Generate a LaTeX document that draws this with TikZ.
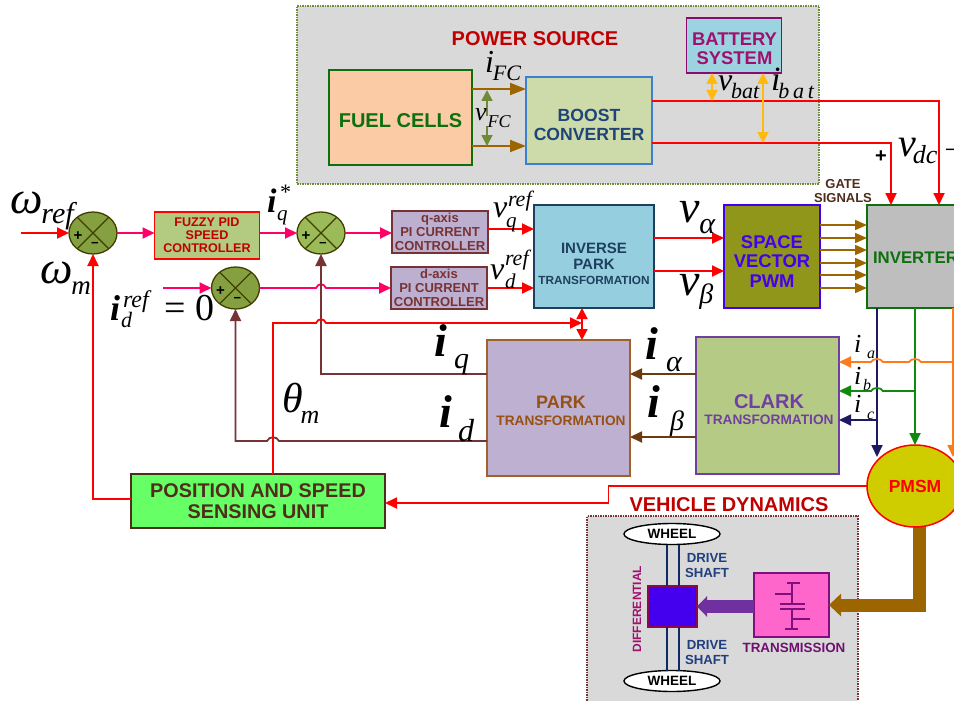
\documentclass[tikz,border=0pt]{standalone}
\usepackage{fontspec}
\setmainfont{Liberation Sans}
\newfontfamily\serf{Liberation Serif}
\usetikzlibrary{arrows.meta,shapes.geometric}
\newcommand\hx[1]{\definecolor{#1}{HTML}{#1}}
\hx{FBCBA6}\hx{3A7FD0}\hx{CDDAA9}\hx{1F4478}\hx{8B0A6B}\hx{9BD3E1}\hx{A0106E}\hx{B3CB80}\hx{C00000}\hx{BDAFD0}\hx{1F3F5F}\hx{95CFDF}\hx{4400EE}\hx{8F961A}\hx{0D6F0D}\hx{BEBEBE}\hx{A0622A}\hx{BDB0D0}\hx{975015}\hx{7040A0}\hx{B5CB85}\hx{4F2D1A}\hx{66FF66}\hx{CFCC00}\hx{8B0A4B}\hx{7F0F7F}\hx{FF66CC}\hx{1F3F7F}\hx{6F0F6F}\hx{7030A0}
\definecolor{bgray}{HTML}{D9D9D9}
\definecolor{pink1}{HTML}{FF0066}
\definecolor{brn}{HTML}{9C6500}
\definecolor{dbrn}{HTML}{6A3A10}
\definecolor{mar}{HTML}{773333}
\definecolor{navyl}{HTML}{1F1A60}
\definecolor{grn}{HTML}{0F8A0F}
\definecolor{org}{HTML}{FF7A1A}
\definecolor{gold}{HTML}{FFB90F}
\definecolor{oliv}{HTML}{6F8B3A}
\definecolor{shaftc}{HTML}{0F2A66}
\definecolor{sumd}{HTML}{3F3F00}
\newcommand\fs[2]{\fontsize{#1}{#2}\selectfont}
% size, symbol, gap, drop, subsize, sub
\newcommand\sym[6]{{\fs{#1}{#1}#2}\hspace{#3pt}\raisebox{-#4pt}{\fs{#5}{#5}#6}}
\tikzset{
  pbox/.style n args={3}{draw=#1,fill=#2,text=#3,line width=1.5pt,inner sep=0pt,outer sep=0pt,align=center,font=\bfseries},
  sz/.style 2 args={minimum width=#1,minimum height=#2},
  lab/.style={anchor=base west,inner sep=0pt,outer sep=0pt,font=\serf\itshape},
  lbf/.style={anchor=base west,inner sep=0pt,outer sep=0pt,font=\serf\itshape\bfseries},
  ttl/.style={inner sep=0pt,outer sep=0pt,align=center,font=\bfseries},
  sumj/.style={ellipse,draw=sumd,line width=1.3pt,minimum width=48pt,minimum height=42pt,inner sep=0pt,outer sep=0pt},
  con/.style={line width=1.8pt,-{Triangle[length=12pt,width=11pt]}},
  dbl/.style={line width=1.8pt,{Triangle[length=11pt,width=11pt]}-{Triangle[length=11pt,width=11pt]}},
}
\begin{document}
\begin{tikzpicture}[x=1pt,y=-1pt]
\useasboundingbox (0,0) rectangle (954,701);
\clip (0,0) rectangle (954,701);
% panels
\node[draw=oliv,fill=bgray,densely dotted,line width=1.5pt,sz={522pt}{178pt},inner sep=0pt] (power) at (558,95) {};
\node[draw=mar,fill=bgray,densely dotted,line width=1.5pt,sz={271pt}{200pt},inner sep=0pt] (veh) at (722.5,616) {};
\node[ttl,text=C00000,font=\bfseries\fs{20}{22}] (ptitle) at (535,39) {POWER SOURCE};
\node[ttl,text=C00000,font=\bfseries\fs{20}{22}] (vtitle) at (729,505) {VEHICLE DYNAMICS};
% source blocks
\node[pbox={0D6F0D}{FBCBA6}{0D6F0D},sz={143pt}{95pt}] (fuel) at (400.5,117.5) {};
\node[ttl,text=0D6F0D,font=\bfseries\fs{20}{22}] (fuelt) at (400.5,121) {FUEL CELLS};
\node[pbox={3A7FD0}{CDDAA9}{1F4478},sz={126pt}{87pt}] (boost) at (589,120.5) {};
\node[ttl,text=1F4478,font=\bfseries\fs{17.6}{19}] (boostt) at (589,124.5) {BOOST\\CONVERTER};
\node[pbox={8B0A6B}{9BD3E1}{A0106E},sz={95pt}{55pt}] (batt) at (734,45.5) {};
\node[ttl,text=A0106E,font=\bfseries\fs{18.4}{19.5}] (battt) at (734.5,49) {BATTERY\\SYSTEM};
% main blocks
\node[pbox={red}{B3CB80}{C00000},sz={105pt}{47pt},font=\bfseries\fs{12.6}{13}] (fuzzy) at (207,235.5) {FUZZY PID\\SPEED\\CONTROLLER};
\node[pbox={mar}{BDAFD0}{mar},sz={96pt}{42pt},font=\bfseries\fs{13}{14}] (qpi) at (440,232) {q-axis\\PI CURRENT\\CONTROLLER};
\node[pbox={mar}{BDAFD0}{mar},sz={96pt}{42pt},font=\bfseries\fs{13}{14}] (dpi) at (439,288) {d-axis\\PI CURRENT\\CONTROLLER};
\node[pbox={1F3F5F}{95CFDF}{1F3F5F},sz={120pt}{103pt},font=\bfseries] (ipark) at (594,256.5) {};
\node[ttl,text=1F3F5F,font=\bfseries] (iparkt) at (594,264) {\fs{15}{16}INVERSE\\[3.5pt]\fs{15}{16}PARK\\[3.5pt]\fs{11.8}{16}TRANSFORMATION};
\node[pbox={4400EE}{8F961A}{4400EE},sz={96pt}{103pt}] (svm) at (772,256.5) {};
\node[ttl,text=4400EE,font=\bfseries\fs{18.4}{19.5}] (svmt) at (772,261.5) {SPACE\\VECTOR\\PWM};
\node[pbox={0D6F0D}{BEBEBE}{0D6F0D},sz={108pt}{103pt}] (inv) at (921,256.5) {};
\node[ttl,text=0D6F0D,font=\bfseries\fs{16.8}{18},anchor=west] (invt) at (873,258) {INVERTER};
\node[pbox={A0622A}{BDB0D0}{975015},sz={143pt}{136pt}] (park) at (558.5,408) {};
\node[ttl,text=975015,font=\bfseries] (parkt) at (561,410.5) {\fs{18}{18}PARK\\[5pt]\fs{13.7}{18}TRANSFORMATION};
\node[pbox={7040A0}{B5CB85}{7040A0},sz={143pt}{137pt}] (clark) at (767.5,405.5) {};
\node[ttl,text=7040A0,font=\bfseries] (clarkt) at (769,409.5) {\fs{20}{18}CLARK\\[4pt]\fs{13.7}{18}TRANSFORMATION};
\node[pbox={4F2D1A}{66FF66}{4F2D1A},sz={254pt}{54pt},font=\bfseries\fs{19.8}{21}] (pos) at (258,501) {POSITION AND SPEED\\SENSING UNIT};
\node[ttl,text=4F2D1A,font=\bfseries\fs{13}{13.5}] (gate) at (843,191) {GATE\\SIGNALS};
% summing junctions
\foreach \n/\x/\y/\c in {sa/93/233/84A040,sb/321/233/9BBB59,sc/235.5/288/84A040}{
  \definecolor{tmpc}{HTML}{\c}
  \node[sumj,fill=tmpc] (\n) at (\x,\y) {};
  \draw[line width=1.3pt,sumd] (\n.45) -- (\n.225) (\n.135) -- (\n.315);
  \node[ttl,font=\bfseries\fs{15}{15}] (\n p) at (\x-15,\y+3) {+};
  \node[ttl,font=\bfseries\fs{13}{13}] (\n m) at (\x+2,\y+12) {−};
}
% power connectors
\coordinate (yi1) at (0,89); \coordinate (yi2) at (0,146);
\draw[line width=2pt,brn,-{Triangle[length=16pt,width=12pt]}] (fuel.east |- yi1) -- (boost.west |- yi1);
\draw[line width=2pt,brn,-{Triangle[length=16pt,width=12pt]}] (fuel.east |- yi2) -- (boost.west |- yi2);
\draw[line width=1.8pt,oliv,{Triangle[length=11pt,width=11pt]}-] (487,90) -- (487,116);
\draw[line width=1.8pt,oliv,-{Triangle[length=11pt,width=11pt]}] (487,126) -- (487,146);
\coordinate (yr1) at (0,101); \coordinate (yr2) at (0,143);
\coordinate (xr1) at (939,0); \coordinate (xr2) at (891,0);
\draw[con,red] (boost.east |- yr1) -| (xr1 |- inv.north);
\draw[con,red] (boost.east |- yr2) -| (xr2 |- inv.north);
\coordinate (xb) at (712,0); \coordinate (xi) at (763,0);
\draw[dbl,gold] (xb |- batt.south) -- (xb |- yr1);
\draw[dbl,gold] (xi |- batt.south) -- (xi |- yr2);
% forward path
\coordinate (wstart) at (21,233);
\coordinate (dstart) at (163,288);
\draw[con,red] (wstart) -- (sa.west);
\draw[con,pink1] (sa.east) -- (fuzzy.west |- sa);
\draw[con,pink1] (fuzzy.east |- sb) -- (sb.west);
\draw[con,pink1] (sb.east) -- (qpi.west |- sb);
\draw[con,pink1] (dstart) -- (sc.west);
\draw[con,pink1] (sc.east) -- (316,288) .. controls (318,283) and (324,283) .. (326,288) -- (dpi.west);
\coordinate (yq) at (0,229); \coordinate (yd) at (0,288);
\draw[con,red] (qpi.east |- yq) -- (ipark.west |- yq);
\draw[con,red] (dpi.east |- yd) -- (ipark.west |- yd);
\coordinate (ya) at (0,238); \coordinate (yb) at (0,271);
\draw[con,red] (ipark.east |- ya) -- (svm.west |- ya);
\draw[con,red] (ipark.east |- yb) -- (svm.west |- yb);
\foreach \y [count=\k] in {225,238,250,263,275,288}{
  \coordinate (g\k) at (0,\y);
  \draw[line width=1.7pt,brn,-{Triangle[length=12pt,width=10pt]}] (svm.east |- g\k) -- (inv.west |- g\k);
}
% feedback
\coordinate (xw) at (93,499);
\draw[con,red] (pos.west |- xw) -- (xw) -- (sa.south);
\coordinate (yiq) at (0,374); \coordinate (yid) at (0,441);
\draw[con,mar] (park.west |- yiq) -- (sb.south |- yiq) -- (sb.south);
\draw[con,mar] (park.west |- yid) -- (279,441) .. controls (277,436) and (269,436) .. (267,441) -- (sc.south |- yid) -- (sc.south);
\coordinate (xt) at (273,474); \coordinate (yt) at (0,323); \coordinate (xp) at (582,0);
\draw[con,red] (xt) -- (xt |- yt) -- (316,323) .. controls (318,318) and (324,318) .. (326,323) -- (xp |- yt);
\draw[dbl,red] (xp |- ipark.south) -- (xp |- park.north);
% vehicle
\node[draw=black,fill=white,ellipse,line width=1.4pt,sz={96pt}{21pt},inner sep=0pt,outer sep=0pt,font=\bfseries\fs{13.5}{14}] (w1) at (672,534) {WHEEL};
\node[draw=black,fill=white,ellipse,line width=1.4pt,sz={96pt}{21pt},inner sep=0pt,outer sep=0pt,font=\bfseries\fs{13.5}{14}] (w2) at (672,681) {WHEEL};
\node[pbox={8B0A4B}{4400EE}{white},sz={49pt}{41pt}] (diff) at (672.5,606.5) {};
\node[pbox={7F0F7F}{FF66CC}{7F0F7F},sz={75pt}{64pt}] (trans) at (791.5,605) {};
\coordinate (sx1) at (667,0); \coordinate (sx2) at (679,0);
\draw[line width=2.6pt,shaftc] (sx1 |- w1.south) -- (sx1 |- diff.north) (sx1 |- diff.south) -- (sx1 |- w2.north);
\draw[line width=1.2pt,shaftc] (sx2 |- w1.south) -- (sx2 |- diff.north) (sx2 |- diff.south) -- (sx2 |- w2.north);
\node[ttl,text=1F3F7F,font=\bfseries\fs{13.2}{14.5}] (ds1) at (707,565.5) {DRIVE\\SHAFT};
\node[ttl,text=1F3F7F,font=\bfseries\fs{13.2}{14.5}] (ds2) at (707,652.5) {DRIVE\\SHAFT};
\node[ttl,text=A0106E,font=\bfseries\fs{12}{13},rotate=90] (dl) at (637,609) {DIFFERENTIAL};
\node[ttl,text=6F0F6F,font=\bfseries\fs{13.4}{14}] (tl) at (794,648) {TRANSMISSION};
\draw[line width=1.4pt,7F0F7F] (787,583) -- (800,583) (792,583) -- (792,604) (775,594) -- (792,594)
  (780,604) -- (805,604) (780,609) -- (805,609) (792,609) -- (792,629) (792,619) -- (810,619) (785,629) -- (798,629);
\draw[line width=13pt,7030A0,-{Triangle[length=10pt,width=20pt]}] (trans.west |- diff) -- (diff.east);
% PMSM and its connectors
\coordinate (dsh) at (919,605); \coordinate (dtop) at (919,524);
\draw[line width=13pt,brn,-{Triangle[length=12pt,width=22pt]}] (dtop) -- (dsh) -- (trans.east |- dsh);
\node[pbox={red}{CFCC00}{red},ellipse,sz={96pt}{82pt},font=\bfseries\fs{17.5}{18}] (pmsm) at (915,486) {PMSM};
\coordinate (xm) at (608.5,486); \coordinate (ym) at (608.5,503);
\draw[con,red] (pmsm.west) -- (xm) -- (ym) -- (pos.east |- ym);
\coordinate (yal) at (0,374); \coordinate (ybe) at (0,437);
\draw[con,dbrn] (clark.west |- yal) -- (park.east |- yal);
\draw[con,dbrn] (clark.west |- ybe) -- (park.east |- ybe);
% phase lines
\coordinate (xa) at (877,0); \coordinate (xc) at (915,0);
\draw[con,navyl] (xa |- inv.south) -- (877,457);
\draw[con,grn] (xc |- inv.south) -- (pmsm.north);
\draw[con,org] (953,308) -- (953,457);
\coordinate (ora) at (960,362);
\draw[con,org] (ora) -- (921,362) .. controls (919,358) and (911,358) .. (909,362) -- (883,362) .. controls (881,358) and (873,358) .. (871,362) -- (clark.east |- ora);
\coordinate (grb) at (915,391);
\draw[con,grn] (grb) -- (883,391) .. controls (881,387) and (873,387) .. (871,391) -- (clark.east |- grb);
\coordinate (nac) at (877,420);
\draw[con,navyl] (nac) -- (clark.east |- nac);
% math labels
\node[lab] (l1) at (10,213) {\sym{46}{ω}{-1}{10}{30}{ref}};
\node[lab] (l2) at (40,283) {\sym{46}{ω}{-1}{11}{27}{m}};
\node[lbf] (l3a) at (110,320) {\fs{36}{36}i};
\node[lab] (l3b) at (123,307) {\fs{24}{24}ref};
\node[lab] (l3c) at (121,327) {\fs{22}{22}d};
\node[inner sep=0pt,anchor=base west,font=\serf] (l3d) at (164,320) {\fs{38}{38}= 0};
\node[lbf] (l4a) at (267,212) {\fs{34}{34}i};
\node[lab] (l4b) at (277,220) {\fs{21}{21}q};
\node[lab] (l4c) at (279,199) {\fs{22}{22}*};
\node[lab] (l5a) at (493,217) {\fs{32}{32}v};
\node[lab] (l5b) at (508,206) {\fs{22}{22}ref};
\node[lab] (l5c) at (506,227) {\fs{21}{21}q};
\node[lab] (l6a) at (490,279) {\fs{32}{32}v};
\node[lab] (l6b) at (505,265) {\fs{22}{22}ref};
\node[lab] (l6c) at (505,288) {\fs{21}{21}d};
\node[lab] (l7) at (679,222) {\sym{46}{v}{0}{11}{30}{α}};
\node[lab] (l8) at (679,295) {\sym{46}{v}{0}{8}{28}{β}};
\node[lbf] (l9a) at (645,359) {\fs{46}{46}i};
\node[lab] (l9b) at (666,371) {\fs{30}{30}α};
\node[lbf] (l10a) at (647,417) {\fs{46}{46}i};
\node[lab] (l10b) at (670,430) {\fs{28}{28}β};
\node[lbf] (l11a) at (434,356) {\fs{46}{46}i};
\node[lab] (l11b) at (454,368) {\fs{30}{30}q};
\node[lbf] (l12a) at (439,427) {\fs{46}{46}i};
\node[lab] (l12b) at (458,441) {\fs{32}{32}d};
\node[lab] (l13) at (282,412) {\sym{42}{θ}{-2}{11}{26}{m}};
\node[lab] (l14) at (485,73) {\sym{32}{i}{-1}{8}{22}{FC}};
\node[lab] (l15) at (475,121) {\sym{26}{v}{1}{7}{18}{FC}};
\node[lab] (l16) at (718,91) {\sym{32}{v}{-1}{8}{22}{bat}};
\node[lab] (l17) at (771,91) {\sym{34}{i}{-2}{8}{22}{b\,a\,t}};
\node[lab] (l18) at (898,156) {\sym{40}{v}{-3}{8}{26}{dc}};
\node[ttl,font=\bfseries\fs{20}{20}] (vp) at (881,157) {+};
\node[inner sep=0pt,anchor=west,font=\fs{20}{20}] (vm) at (945,153) {−};
\node[lab] (l19a) at (854,352) {\fs{26}{26}i};
\node[lab] (l19b) at (867,358) {\fs{16}{16}a};
\node[lab] (l20a) at (854,384) {\fs{26}{26}i};
\node[lab] (l20b) at (863,390) {\fs{16}{16}b};
\node[lab] (l21a) at (854,412) {\fs{26}{26}i};
\node[lab] (l21b) at (867,419) {\fs{16}{16}c};
\end{tikzpicture}
\end{document}
